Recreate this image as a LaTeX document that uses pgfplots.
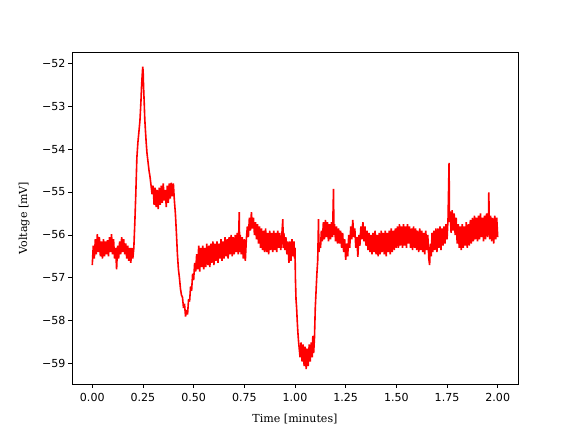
\documentclass[border=0pt]{standalone}
\usepackage{fontspec}
\setmainfont{DejaVu Serif}
\newfontfamily\ticksf{DejaVu Sans}
\usepackage{pgfplots}
\pgfplotsset{compat=1.18}

\begin{document}
\begin{tikzpicture}
\path[use as bounding box] (-72bp,-48bp) rectangle (504bp,384bp);
\begin{axis}[
    at={(0,0)}, anchor=south west,
    scale only axis,
    width=446bp, height=332bp,
    xmin=-0.1, xmax=2.1,
    ymin=-59.47, ymax=-51.74,
    xtick={0,0.25,0.5,0.75,1,1.25,1.5,1.75,2},
    xticklabels={0.00,0.25,0.50,0.75,1.00,1.25,1.50,1.75,2.00},
    ytick={-59,-58,-57,-56,-55,-54,-53,-52},
    yticklabels={−59,−58,−57,−56,−55,−54,−53,−52},
    xtick pos=bottom, ytick pos=left,
    tick align=outside,
    major tick length=3.9bp,
    tick style={black, line width=0.89bp},
    axis line style={line width=0.89bp},
    every tick label/.append style={font=\ticksf\fontsize{11.1}{13}\selectfont},
    xticklabel style={inner sep=1bp, yshift=-4bp},
    yticklabel style={inner sep=1bp, xshift=-1.5bp},
    label style={font=\fontsize{11.1}{13}\selectfont},
    xlabel={Time [minutes]},
    ylabel={Voltage [mV]},
    xlabel style={yshift=-8bp},
    ylabel style={yshift=8bp},
]
\addplot[red, line width=1.6bp, line join=bevel] coordinates {
(0.000,-56.70) (0.005,-56.25) (0.010,-56.55) (0.015,-56.10) (0.020,-56.45) (0.025,-55.98)
(0.030,-56.40) (0.035,-56.05) (0.040,-56.50) (0.045,-56.15) (0.050,-56.55) (0.055,-56.10)
(0.060,-56.50) (0.065,-56.15) (0.070,-56.45) (0.075,-56.12) (0.080,-56.50) (0.085,-56.05)
(0.090,-56.40) (0.095,-55.98) (0.100,-56.45) (0.105,-56.10) (0.110,-56.55) (0.115,-56.30)
(0.120,-56.80) (0.125,-56.25) (0.130,-56.55) (0.135,-56.15) (0.140,-56.45) (0.145,-56.05)
(0.150,-56.40) (0.155,-56.10) (0.160,-56.45) (0.165,-56.20) (0.170,-56.55) (0.175,-56.25)
(0.180,-56.60) (0.185,-56.30) (0.190,-56.65) (0.195,-56.30) (0.200,-56.55)
(0.205,-56.30) (0.210,-55.70) (0.215,-55.00) (0.220,-54.20) (0.225,-53.85) (0.230,-53.60)
(0.235,-53.35) (0.240,-52.90) (0.243,-52.55) (0.246,-52.30) (0.249,-52.08) (0.251,-52.20)
(0.253,-52.55) (0.256,-52.90) (0.259,-53.30) (0.262,-53.55) (0.266,-53.85) (0.270,-54.10)
(0.275,-54.30) (0.280,-54.50) (0.285,-54.65) (0.290,-54.85) (0.295,-55.05)
(0.300,-54.85) (0.305,-55.30) (0.310,-54.90) (0.315,-55.35) (0.320,-54.95) (0.325,-55.40)
(0.330,-54.90) (0.335,-55.30) (0.340,-54.85) (0.345,-55.25) (0.350,-54.80) (0.355,-55.20)
(0.360,-54.95) (0.365,-55.35) (0.370,-54.85) (0.375,-55.25) (0.380,-54.80) (0.385,-55.15)
(0.390,-54.78) (0.395,-55.10) (0.400,-54.80) (0.405,-55.20)
(0.410,-55.50) (0.415,-55.95) (0.420,-56.45) (0.425,-56.80) (0.430,-57.00) (0.435,-57.25)
(0.440,-57.40) (0.445,-57.45) (0.450,-57.70) (0.455,-57.60) (0.460,-57.90) (0.465,-57.75)
(0.470,-57.85) (0.475,-57.50) (0.480,-57.55) (0.485,-57.20) (0.490,-57.30) (0.495,-56.90)
(0.500,-57.05) (0.505,-56.65) (0.510,-56.85) (0.515,-56.45)
(0.520,-56.80) (0.525,-56.25) (0.530,-56.85) (0.535,-56.30) (0.540,-56.75) (0.545,-56.25)
(0.550,-56.80) (0.555,-56.30) (0.560,-56.75) (0.565,-56.20) (0.570,-56.70) (0.575,-56.25)
(0.580,-56.75) (0.585,-56.20) (0.590,-56.65) (0.595,-56.15) (0.600,-56.70) (0.605,-56.20)
(0.610,-56.60) (0.615,-56.15) (0.620,-56.65) (0.625,-56.20) (0.630,-56.55) (0.635,-56.10)
(0.640,-56.60) (0.645,-56.15) (0.650,-56.55) (0.655,-56.05) (0.660,-56.50) (0.665,-56.10)
(0.670,-56.55) (0.675,-56.05) (0.680,-56.45) (0.685,-56.00) (0.690,-56.50) (0.695,-56.05)
(0.700,-56.45) (0.705,-56.00) (0.710,-56.40) (0.715,-55.95) (0.720,-56.45) (0.725,-55.47)
(0.727,-56.40) (0.730,-56.00) (0.735,-56.45) (0.740,-56.05) (0.745,-56.55) (0.750,-56.10)
(0.755,-56.60) (0.760,-56.10)
(0.765,-55.80) (0.770,-56.05) (0.775,-55.60) (0.780,-55.90) (0.785,-55.47) (0.790,-55.85)
(0.795,-55.60) (0.800,-56.00) (0.805,-55.70) (0.810,-56.10) (0.815,-55.75) (0.820,-56.20)
(0.825,-55.80) (0.830,-56.30) (0.835,-55.85) (0.840,-56.35) (0.845,-55.90) (0.850,-56.40)
(0.855,-55.85) (0.860,-56.40) (0.865,-55.95) (0.870,-56.45) (0.875,-55.90) (0.880,-56.35)
(0.885,-55.95) (0.890,-56.40) (0.895,-55.90) (0.900,-56.35) (0.905,-55.95) (0.910,-56.40)
(0.915,-55.90) (0.920,-56.30) (0.925,-55.95) (0.930,-56.35) (0.935,-56.00) (0.940,-55.63)
(0.942,-56.30) (0.945,-55.95) (0.950,-56.35) (0.955,-56.05) (0.960,-56.45) (0.965,-56.15)
(0.970,-56.65) (0.975,-56.15) (0.980,-56.60) (0.985,-56.10) (0.990,-56.50) (0.995,-56.15)
(0.998,-56.55)
(1.000,-56.30) (1.002,-57.00) (1.005,-57.50) (1.008,-57.70) (1.011,-58.00) (1.014,-58.25)
(1.017,-58.45) (1.020,-58.60) (1.025,-58.85) (1.030,-58.50) (1.035,-58.95) (1.040,-58.55)
(1.045,-59.05) (1.050,-58.60) (1.055,-59.12) (1.060,-58.65) (1.065,-59.05) (1.070,-58.55)
(1.075,-58.95) (1.080,-58.50) (1.085,-58.85) (1.088,-58.35) (1.092,-58.75) (1.096,-58.40)
(1.100,-57.70) (1.104,-57.30) (1.108,-56.90) (1.112,-56.60) (1.116,-55.63) (1.118,-56.40)
(1.122,-56.20) (1.126,-56.30) (1.130,-55.90)
(1.135,-56.15) (1.140,-55.70) (1.145,-56.10) (1.150,-55.65) (1.155,-56.05) (1.160,-55.70)
(1.165,-56.15) (1.170,-55.75) (1.175,-56.10) (1.180,-55.70) (1.185,-56.05) (1.190,-54.93)
(1.192,-56.00) (1.195,-55.75) (1.200,-56.15) (1.205,-55.80) (1.210,-56.20) (1.215,-55.85)
(1.220,-56.20) (1.225,-55.90) (1.230,-56.30) (1.235,-55.95) (1.240,-56.40) (1.245,-56.10)
(1.250,-56.58) (1.255,-56.20) (1.260,-56.50) (1.265,-56.00) (1.270,-56.30) (1.275,-55.80)
(1.280,-56.10) (1.285,-55.65) (1.290,-56.05) (1.295,-55.85) (1.300,-56.30) (1.305,-56.05)
(1.310,-56.51) (1.315,-56.00) (1.320,-56.25) (1.325,-55.80) (1.330,-56.10) (1.335,-55.70)
(1.340,-56.15) (1.345,-55.80) (1.350,-56.25) (1.355,-55.90) (1.360,-56.35) (1.365,-55.95)
(1.370,-56.40) (1.375,-56.00) (1.380,-56.45) (1.385,-55.95) (1.390,-56.40) (1.395,-55.90)
(1.400,-56.45) (1.405,-56.00) (1.410,-56.50) (1.415,-55.95) (1.420,-56.45) (1.425,-55.90)
(1.430,-56.40)
(1.435,-55.95) (1.440,-56.45) (1.445,-55.90) (1.450,-56.50) (1.455,-55.95) (1.460,-56.40)
(1.465,-55.90) (1.470,-56.45) (1.475,-55.85) (1.480,-56.40) (1.485,-55.90) (1.490,-56.35)
(1.495,-55.85) (1.500,-56.30) (1.505,-55.80) (1.510,-56.30) (1.515,-55.75) (1.520,-56.25)
(1.525,-55.80) (1.530,-56.30) (1.535,-55.75) (1.540,-56.25) (1.545,-55.80) (1.550,-56.30)
(1.555,-55.75) (1.560,-56.20) (1.565,-55.80) (1.570,-56.30) (1.575,-55.85) (1.580,-56.35)
(1.585,-55.80) (1.590,-56.30) (1.595,-55.85) (1.600,-56.35) (1.605,-55.90) (1.610,-56.40)
(1.615,-55.85) (1.620,-56.35) (1.625,-55.90) (1.630,-56.40) (1.635,-55.95) (1.640,-56.45)
(1.645,-55.90) (1.650,-56.35) (1.655,-56.00) (1.660,-56.55) (1.664,-56.70) (1.668,-56.20)
(1.672,-56.50) (1.676,-55.95) (1.680,-56.40) (1.685,-55.90) (1.690,-56.35) (1.695,-55.85)
(1.700,-56.40) (1.705,-55.85) (1.710,-56.30) (1.715,-55.80) (1.720,-56.35) (1.725,-55.85)
(1.730,-56.25) (1.735,-55.80) (1.740,-56.20) (1.745,-55.75) (1.750,-56.10) (1.755,-55.60)
(1.760,-54.32) (1.762,-55.70) (1.765,-55.45) (1.770,-55.95) (1.775,-55.42) (1.780,-55.90)
(1.785,-55.50) (1.790,-56.00) (1.795,-55.60) (1.800,-56.20) (1.805,-55.75) (1.810,-56.30)
(1.815,-55.80) (1.820,-56.35) (1.825,-55.75) (1.830,-56.30) (1.835,-55.80) (1.840,-56.25)
(1.845,-55.70) (1.850,-56.30) (1.855,-55.75) (1.860,-56.25) (1.865,-55.65) (1.870,-56.20)
(1.875,-55.60) (1.880,-56.15) (1.885,-55.55) (1.890,-56.10) (1.895,-55.60) (1.900,-56.15)
(1.905,-55.55) (1.910,-56.10) (1.915,-55.50) (1.920,-56.05) (1.925,-55.60) (1.930,-56.15)
(1.935,-55.55) (1.940,-56.10) (1.945,-55.50) (1.950,-56.05) (1.955,-55.45) (1.956,-55.01)
(1.958,-55.60) (1.960,-56.10) (1.965,-55.55) (1.970,-56.15) (1.975,-55.60) (1.980,-56.20)
(1.985,-55.55) (1.990,-56.10) (1.995,-55.60) (2.000,-56.05)
};
\end{axis}
\end{tikzpicture}
\end{document}
